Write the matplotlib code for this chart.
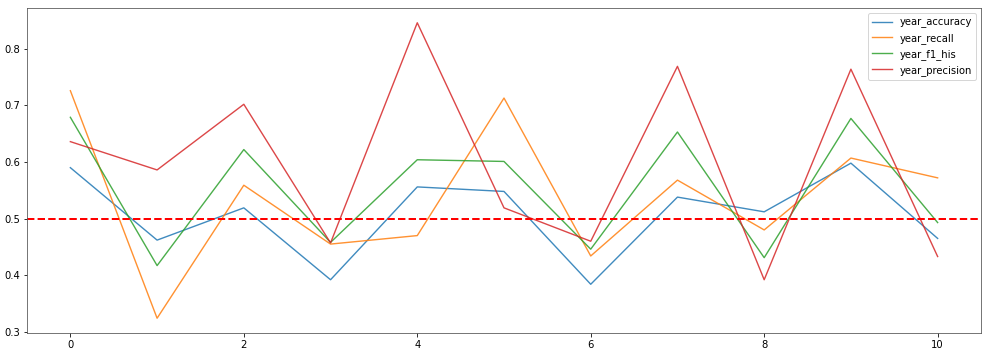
import matplotlib
matplotlib.use('Agg')
import matplotlib.pyplot as plt

years = list(range(11))
year_accuracy = [0.590, 0.462, 0.519, 0.392, 0.556, 0.548, 0.384, 0.538, 0.512, 0.598, 0.465]
year_recall = [0.726, 0.324, 0.559, 0.455, 0.470, 0.713, 0.434, 0.568, 0.480, 0.607, 0.572]
year_f1_his = [0.679, 0.417, 0.622, 0.458, 0.604, 0.601, 0.446, 0.653, 0.431, 0.677, 0.493]
year_precision = [0.636, 0.586, 0.702, 0.457, 0.846, 0.519, 0.460, 0.769, 0.392, 0.764, 0.433]
threshold = 0.5

fig = plt.figure(figsize=(996 / 72, 358 / 72), dpi=72)
ax = fig.add_axes([27 / 996, 1 - 333 / 358, (981 - 27) / 996, (333 - 8) / 358])

# lines in the reference look a bit softer than the default colours
ax.plot(years, year_accuracy, label='year_accuracy', alpha=0.85, lw=1.4)
ax.plot(years, year_recall, label='year_recall', alpha=0.85, lw=1.4)
ax.plot(years, year_f1_his, label='year_f1_his', alpha=0.85, lw=1.4)
ax.plot(years, year_precision, label='year_precision', alpha=0.85, lw=1.4)
ax.axhline(threshold, color='red', linestyle='--', linewidth=2)
ax.legend(loc='upper right')

for s in ax.spines.values():
    s.set_color('#555555')

fig.savefig('out.png', dpi=72)
